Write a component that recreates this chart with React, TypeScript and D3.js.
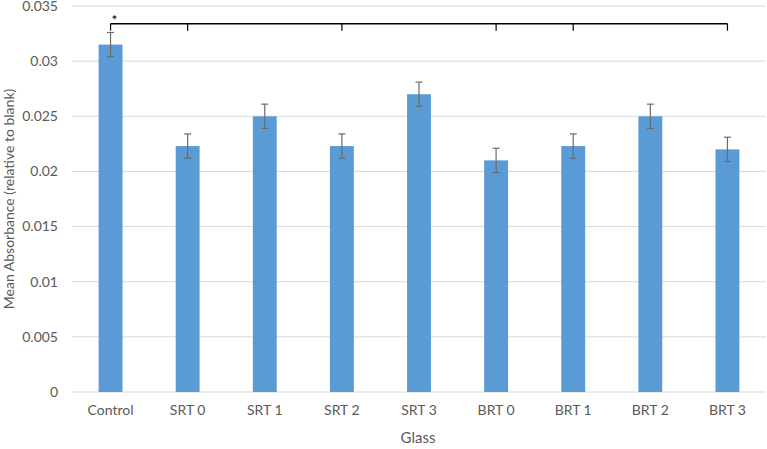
import React from "react";
import * as d3 from "d3";

const categories = ["Control", "SRT 0", "SRT 1", "SRT 2", "SRT 3", "BRT 0", "BRT 1", "BRT 2", "BRT 3"];
const values = [0.0315, 0.0223, 0.025, 0.0223, 0.027, 0.021, 0.0223, 0.025, 0.022];
const errors = [0.0011, 0.0011, 0.0011, 0.0011, 0.0011, 0.0011, 0.0011, 0.0011, 0.0011];
const yTicks = [0, 0.005, 0.01, 0.015, 0.02, 0.025, 0.03, 0.035];
const bracketCats = ["Control", "SRT 0", "SRT 2", "BRT 0", "BRT 1", "BRT 3"];
const bracketValue = 0.0334;

const W = 767, H = 449;
const m = { left: 72, right: 1, top: 6, bottom: 57 };

export default function App() {
  const x = d3.scaleBand().domain(categories).range([m.left, W - m.right]).paddingInner(0.69).paddingOuter(0.345);
  const y = d3.scaleLinear().domain([0, 0.035]).range([H - m.bottom, m.top]);
  const font = "Lato, 'Open Sans', sans-serif";
  const cx = (c: string) => (x(c) as number) + x.bandwidth() / 2;
  const by = y(bracketValue);
  const bx0 = cx(bracketCats[0]);
  const bx1 = cx(bracketCats[bracketCats.length - 1]);
  return (
    <svg width={W} height={H} style={{ position: "absolute", left: 0, top: 0, background: "#fff" }}>
      {yTicks.map((t) => (
        <g key={t}>
          <line x1={m.left} x2={W - m.right} y1={y(t)} y2={y(t)} stroke="#d9d9d9" strokeWidth={1} />
          <text x={58} y={y(t)} dy="0.35em" textAnchor="end" fontFamily={font} fontSize={14} fill="#595959">
            {String(t)}
          </text>
        </g>
      ))}
      {categories.map((c, i) => (
        <g key={c}>
          <rect x={x(c)} y={y(values[i])} width={x.bandwidth()} height={y(0) - y(values[i])} fill="#5b9bd5" />
          <line x1={cx(c)} x2={cx(c)} y1={y(values[i] + errors[i])} y2={y(values[i] - errors[i])} stroke="#6b6b6b" strokeWidth={1.2} />
          <line x1={cx(c) - 3.5} x2={cx(c) + 3.5} y1={y(values[i] + errors[i])} y2={y(values[i] + errors[i])} stroke="#6b6b6b" strokeWidth={1.2} />
          <line x1={cx(c) - 3.5} x2={cx(c) + 3.5} y1={y(values[i] - errors[i])} y2={y(values[i] - errors[i])} stroke="#6b6b6b" strokeWidth={1.2} />
          <text x={cx(c)} y={415} textAnchor="middle" fontFamily={font} fontSize={14} fill="#595959">
            {c}
          </text>
        </g>
      ))}
      <line x1={bx0} x2={bx1} y1={by} y2={by} stroke="#000" strokeWidth={1.5} />
      {bracketCats.map((c) => (
        <line key={c} x1={cx(c)} x2={cx(c)} y1={by} y2={by + 7} stroke="#000" strokeWidth={1.2} />
      ))}
      <text x={bx0 + 4} y={by + 1} textAnchor="middle" fontFamily={font} fontSize={14} fill="#000">*</text>
      <text x={418} y={443} textAnchor="middle" fontFamily={font} fontSize={15} fill="#595959">Glass</text>
      <text transform={`translate(14,${y(0.0175)}) rotate(-90)`} textAnchor="middle" fontFamily={font} fontSize={14} fill="#595959">
        Mean Absorbance (relative to blank)
      </text>
    </svg>
  );
}
